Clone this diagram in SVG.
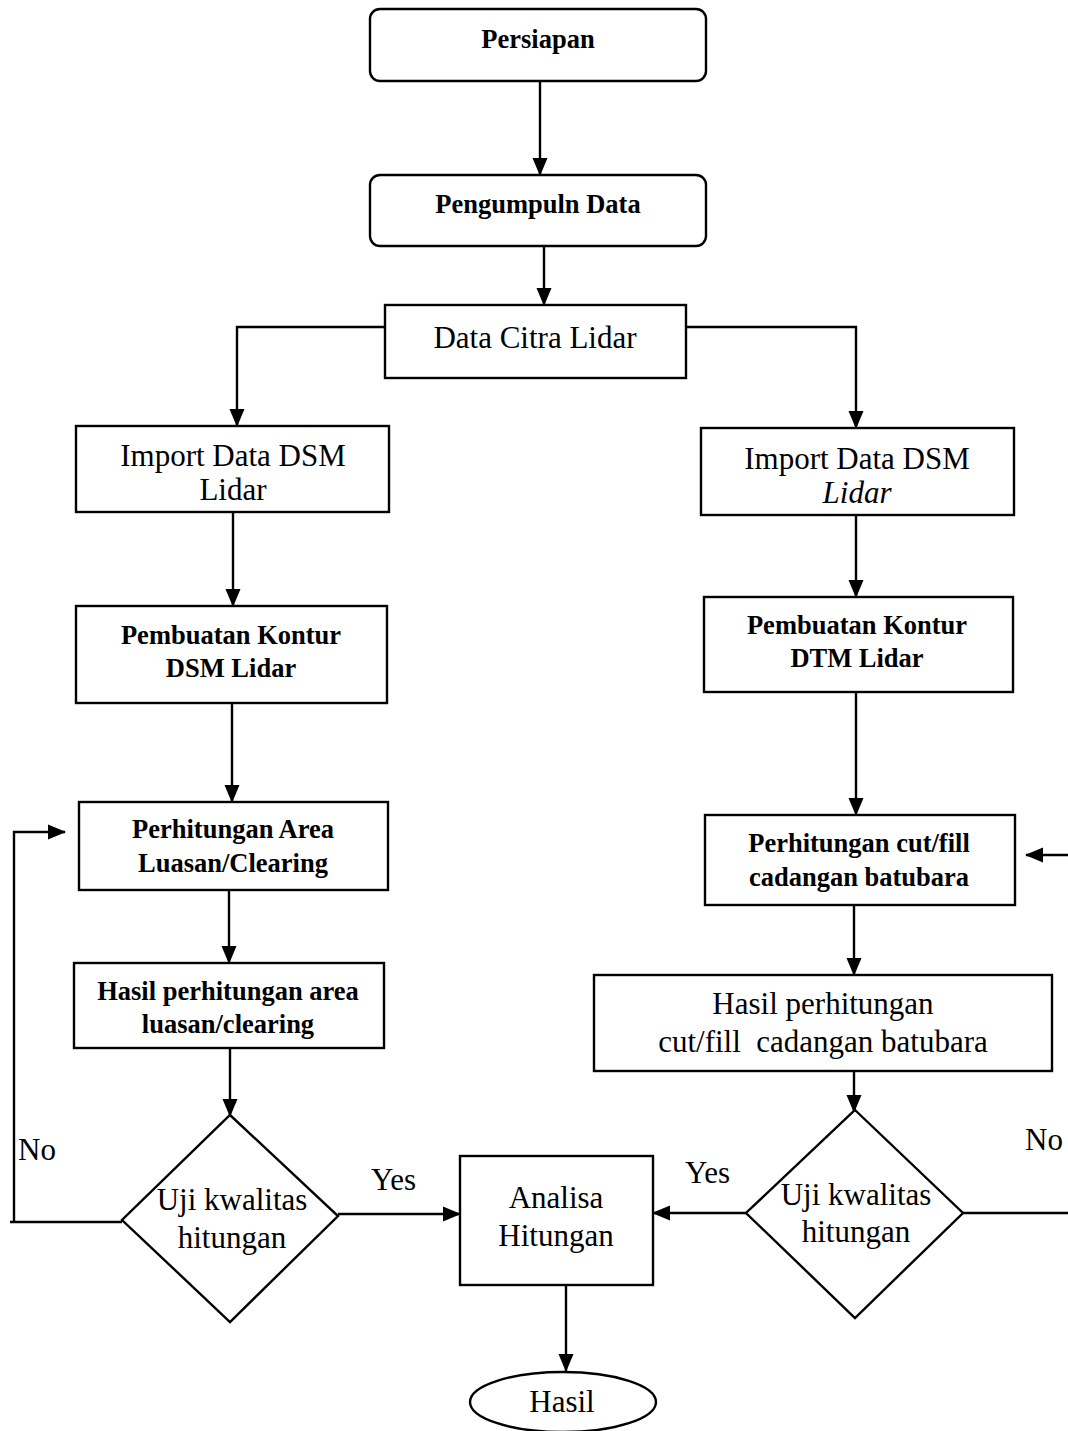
<svg xmlns="http://www.w3.org/2000/svg" width="1068" height="1431" viewBox="0 0 1068 1431">
<style>
.box{fill:#fff;stroke:#000;stroke-width:2.4}
.ln{fill:none;stroke:#000;stroke-width:2.4}
.b{font-family:"Liberation Serif","Times New Roman",serif;font-weight:bold;font-size:26.5px;text-anchor:middle;fill:#000}
.n{font-family:"Liberation Serif","Times New Roman",serif;font-size:31px;text-anchor:middle;fill:#000}
.l{font-family:"Liberation Serif","Times New Roman",serif;font-size:31px;fill:#000}
</style>
<defs>
<marker id="ah" markerUnits="userSpaceOnUse" markerWidth="18" markerHeight="18" viewBox="0 0 18 18" refX="17" refY="9" orient="auto">
<path d="M0,1.5 L18,9 L0,16.5 Z" fill="#000"/>
</marker>
</defs>
<rect width="1068" height="1431" fill="#fff"/>
<g id="connectors">
<line class="ln" x1="540" y1="81" x2="540" y2="175" marker-end="url(#ah)"/>
<line class="ln" x1="544" y1="246" x2="544" y2="305" marker-end="url(#ah)"/>
<polyline class="ln" points="385,327 237,327 237,426" marker-end="url(#ah)"/>
<polyline class="ln" points="686,327 856,327 856,428" marker-end="url(#ah)"/>
<line class="ln" x1="233" y1="512" x2="233" y2="606" marker-end="url(#ah)"/>
<line class="ln" x1="856" y1="515" x2="856" y2="597" marker-end="url(#ah)"/>
<line class="ln" x1="232" y1="703" x2="232" y2="802" marker-end="url(#ah)"/>
<line class="ln" x1="856" y1="692" x2="856" y2="815" marker-end="url(#ah)"/>
<line class="ln" x1="229" y1="890" x2="229" y2="963" marker-end="url(#ah)"/>
<line class="ln" x1="854" y1="905" x2="854" y2="975" marker-end="url(#ah)"/>
<line class="ln" x1="230" y1="1048" x2="230" y2="1116" marker-end="url(#ah)"/>
<line class="ln" x1="854" y1="1071" x2="854" y2="1112" marker-end="url(#ah)"/>
<polyline class="ln" points="122,1222 10,1222"/>
<polyline class="ln" points="14,1222 14,832 65,832" marker-end="url(#ah)"/>
<line class="ln" x1="338" y1="1214" x2="460" y2="1214" marker-end="url(#ah)"/>
<line class="ln" x1="746" y1="1213" x2="653" y2="1213" marker-end="url(#ah)"/>
<line class="ln" x1="963" y1="1213" x2="1068" y2="1213"/>
<line class="ln" x1="1068" y1="855" x2="1026" y2="855" marker-end="url(#ah)"/>
<line class="ln" x1="566" y1="1285" x2="566" y2="1371" marker-end="url(#ah)"/>
</g>
<g id="persiapan"><rect class="box" x="370" y="9" width="336" height="72" rx="10"/><text class="b" x="538" y="48">Persiapan</text></g>
<g id="pengumpulan"><rect class="box" x="370" y="175" width="336" height="71" rx="10"/><text class="b" x="538" y="213">Pengumpuln Data</text></g>
<g id="data-citra"><rect class="box" x="385" y="305" width="301" height="73"/><text class="n" x="535" y="348">Data Citra Lidar</text></g>
<g id="import-left"><rect class="box" x="76" y="426" width="313" height="86"/><text class="n" x="233" y="466">Import Data DSM</text><text class="n" x="233" y="500">Lidar</text></g>
<g id="import-right"><rect class="box" x="701" y="428" width="313" height="87"/><text class="n" x="857" y="469">Import Data DSM</text><text class="n" x="857" y="503" font-style="italic">Lidar</text></g>
<g id="kontur-dsm"><rect class="box" x="76" y="606" width="311" height="97"/><text class="b" x="231" y="644">Pembuatan Kontur</text><text class="b" x="231" y="677">DSM Lidar</text></g>
<g id="kontur-dtm"><rect class="box" x="704" y="597" width="309" height="95"/><text class="b" x="857" y="634">Pembuatan Kontur</text><text class="b" x="857" y="667">DTM Lidar</text></g>
<g id="area"><rect class="box" x="79" y="802" width="309" height="88"/><text class="b" x="233" y="838">Perhitungan Area</text><text class="b" x="233" y="872">Luasan/Clearing</text></g>
<g id="cutfill"><rect class="box" x="705" y="815" width="310" height="90"/><text class="b" x="859" y="852">Perhitungan cut/fill</text><text class="b" x="859" y="886">cadangan batubara</text></g>
<g id="hasil-area"><rect class="box" x="74" y="963" width="310" height="85"/><text class="b" x="228" y="1000">Hasil perhitungan area</text><text class="b" x="228" y="1033">luasan/clearing</text></g>
<g id="hasil-cutfill"><rect class="box" x="594" y="975" width="458" height="96"/><text class="n" x="823" y="1014">Hasil perhitungan</text><text class="n" x="823" y="1052" xml:space="preserve">cut/fill  cadangan batubara</text></g>
<g id="uji-left"><polygon class="box" points="230,1115 338,1216 230,1322 122,1220"/><text class="n" x="232" y="1210">Uji kwalitas</text><text class="n" x="232" y="1248">hitungan</text></g>
<g id="uji-right"><polygon class="box" points="855,1110 963,1213 855,1318 746,1213"/><text class="n" x="856" y="1205">Uji kwalitas</text><text class="n" x="856" y="1242">hitungan</text></g>
<g id="analisa"><rect class="box" x="460" y="1156" width="193" height="129"/><text class="n" x="556" y="1208">Analisa</text><text class="n" x="556" y="1246">Hitungan</text></g>
<g id="hasil"><ellipse class="box" cx="563" cy="1402" rx="93" ry="30"/><text class="n" x="562" y="1412">Hasil</text></g>
<g id="labels">
<text class="l" x="18" y="1160">No</text>
<text class="l" x="1025" y="1150">No</text>
<text class="l" x="371" y="1190">Yes</text>
<text class="l" x="685" y="1183">Yes</text>
</g>
</svg>
